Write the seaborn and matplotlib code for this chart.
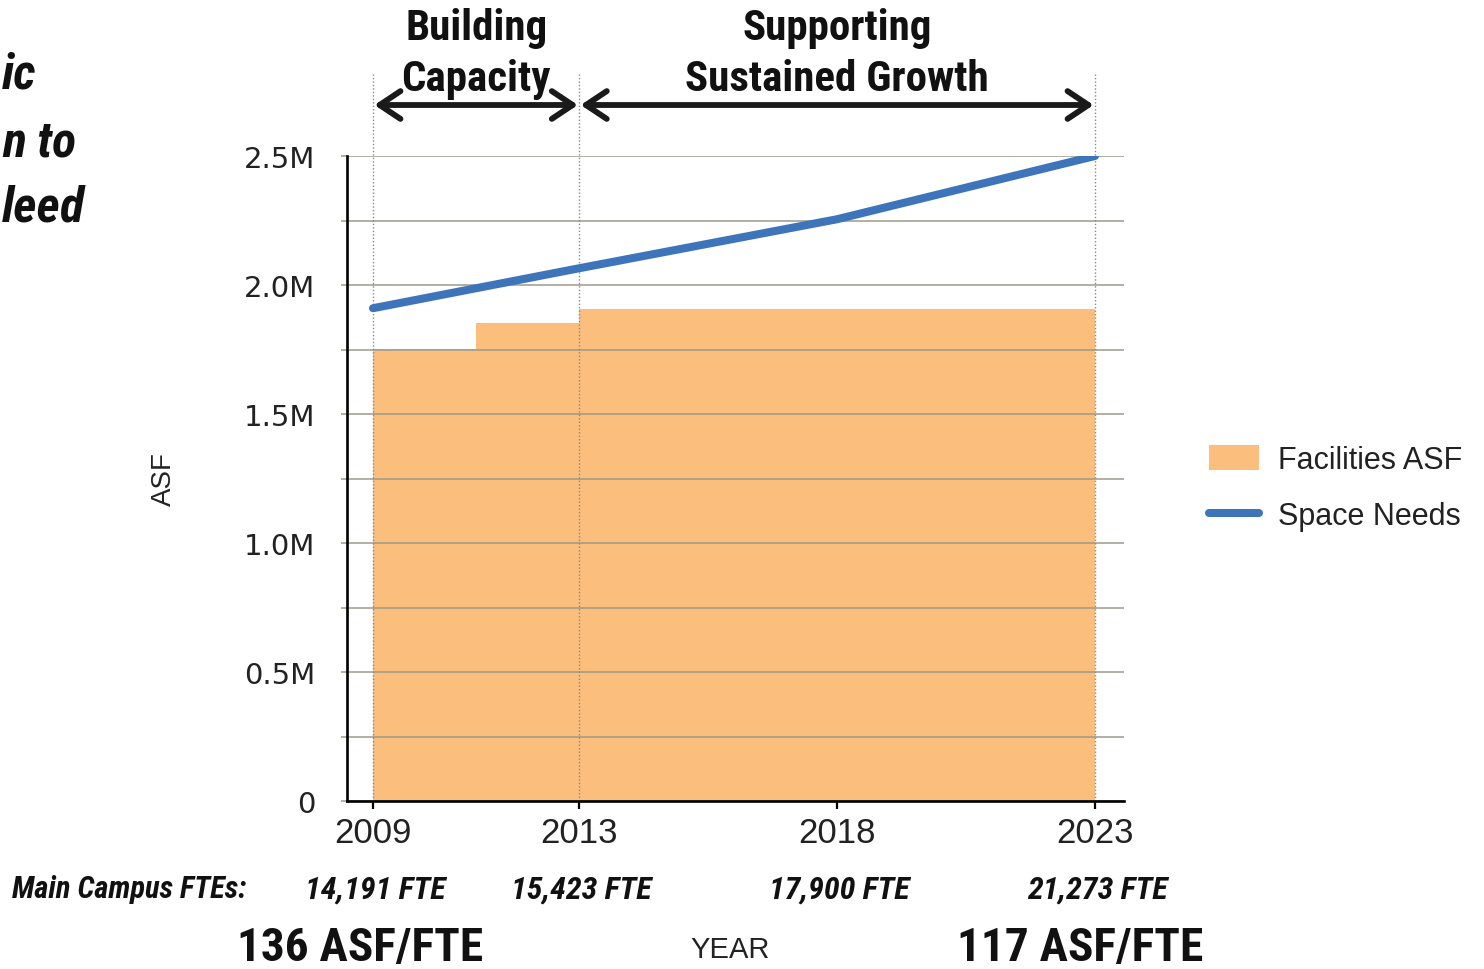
import matplotlib
matplotlib.use('Agg')
import matplotlib.pyplot as plt
import matplotlib.transforms as mtransforms
from matplotlib.ticker import FixedLocator, MultipleLocator
import seaborn as sns
import pandas as pd
import numpy as np

# ---------------- data ----------------
tick_years = [2009, 2013, 2018, 2023]
need_years = [2009, 2013, 2018, 2023]
space_needs = [1.91e6, 2.065e6, 2.255e6, 2.50e6]
asf_start = [2009, 2011, 2013]
asf_end = [2011, 2013, 2023]
facilities_asf = [1.752e6, 1.853e6, 1.907e6]
fte_labels = ['14,191 FTE', '15,423 FTE', '17,900 FTE', '21,273 FTE']
phase_labels = ['Building\nCapacity', 'Supporting\nSustained Growth']
phase_start = [2009, 2013]
phase_end = [2013, 2023]
ratio_labels = ['136 ASF/FTE', '117 ASF/FTE']
ytick_vals = [0, 0.5e6, 1.0e6, 1.5e6, 2.0e6, 2.5e6]
ytick_labels = ['0', '0.5M', '1.0M', '1.5M', '2.0M', '2.5M']
side_lines = ['ic', 'n to', 'leed']

ORANGE = '#FBBE7D'
BLUE = '#3E74BA'
GRID = '#9c9a88'
NARROW = ['Roboto Condensed', 'Liberation Sans', 'DejaVu Sans']
REG = ['Liberation Sans', 'DejaVu Sans']

sns.set_theme(style='white')
plt.rcParams['font.family'] = REG

fig = plt.figure(figsize=(14.84, 9.70), dpi=100)
W, H = 1484, 970
ax = fig.add_axes([347 / W, 1 - 802 / H, (1124 - 347) / W, (802 - 157) / H])

# bars (facilities)
widths = np.subtract(asf_end, asf_start)
ax.bar(asf_start, facilities_asf, width=widths, align='edge', color=ORANGE,
       linewidth=0, label='Facilities ASF', zorder=1)

# line (space needs)
df = pd.DataFrame({'year': need_years, 'asf': space_needs})
sns.lineplot(data=df, x='year', y='asf', ax=ax, color=BLUE, linewidth=5.8,
             label='Space Needs', zorder=4, solid_capstyle='round')

ax.set_xlim(2008.496, 2023.562)
ax.set_ylim(0, 2.5e6)

# axes styling
for s in ['top', 'right']:
    ax.spines[s].set_visible(False)
for s in ['left', 'bottom']:
    ax.spines[s].set_color('black')
    ax.spines[s].set_linewidth(1.9)
    ax.spines[s].set_zorder(5)

ax.yaxis.set_major_locator(FixedLocator(ytick_vals))
ax.set_yticklabels(ytick_labels)
ax.yaxis.set_minor_locator(MultipleLocator(0.25e6))
ax.set_xticks(tick_years)
ax.set_xticklabels([str(y) for y in tick_years])

ax.set_axisbelow(False)
ax.yaxis.grid(True, which='both', color=GRID, linewidth=1.1, zorder=2.5)
ax.xaxis.grid(False)

ax.tick_params(axis='y', which='both', left=True, length=4, width=1.1,
               color=GRID, pad=19)
ax.tick_params(axis='y', which='major', labelsize=21, labelcolor='#222222')
ax.tick_params(axis='x', which='major', bottom=True, length=6, width=1.6,
               color='black', labelsize=25, labelcolor='#222222', pad=5)
for lab in ax.get_yticklabels():
    lab.set_family(['DejaVu Sans'])

ax.set_xlabel('')
ax.set_ylabel('ASF', fontsize=20, color='#222222')
ax.yaxis.set_label_coords((177 - 347) / (1124 - 347), 0.5)

# vertical dotted phase boundaries
bounds = phase_start + [phase_end[-1]]
for b in bounds:
    ax.axvline(b, ymin=0, ymax=(802 - 75) / 645, color='#888888', lw=1.0,
               ls=(0, (1, 1.5)), clip_on=False, zorder=2.6)

# phase arrows and titles
trans_xa = mtransforms.blended_transform_factory(ax.transData, ax.transAxes)
arrow_y = (802 - 106) / 645
title_y = (802 - 54) / 645
for s, e, lab in zip(phase_start, phase_end, phase_labels):
    ax.annotate('', xy=(e, arrow_y), xytext=(s, arrow_y), xycoords=trans_xa,
                textcoords=trans_xa, annotation_clip=False,
                arrowprops=dict(arrowstyle='<->,head_length=0.75,head_width=0.5',
                                lw=4.2, color='#1a1a1a', shrinkA=1, shrinkB=1,
                                mutation_scale=20))
    ax.text((s + e) / 2, title_y, lab, transform=trans_xa, ha='center',
            va='center', fontsize=31, fontweight='bold', family=NARROW,
            linespacing=1.3, clip_on=False, color='#111111')

# FTE row
trans_xf = mtransforms.blended_transform_factory(ax.transData, fig.transFigure)
for yr, lab in zip(tick_years, fte_labels):
    ax.text(yr + 0.04, 1 - 890 / H, lab, transform=trans_xf, ha='center',
            va='center', fontsize=23, fontweight='bold', fontstyle='italic',
            family=NARROW, color='#111111', clip_on=False)
fig.text(12 / W, 1 - 890 / H, 'Main Campus FTEs:', ha='left', va='center',
         fontsize=22, fontweight='bold', fontstyle='italic', family=NARROW,
         color='#111111')

# ratio labels + YEAR
for cx, lab in zip([360, 1080], ratio_labels):
    fig.text(cx / W, 1 - 948 / H, lab, ha='center', va='center', fontsize=34,
             fontweight='bold', family=NARROW, color='#111111')
fig.text(730 / W, 1 - 950 / H, 'YEAR', ha='center', va='center', fontsize=21,
         family=REG, color='#222222')

# cropped side title (only the visible fragments)
for cy, line in zip([75, 143, 208], side_lines):
    fig.text(2 / W, 1 - cy / H, line, ha='left', va='center', fontsize=36,
             fontweight='bold', fontstyle='italic', family=NARROW,
             color='#111111')

# legend
handles, labels = ax.get_legend_handles_labels()
order = [labels.index('Facilities ASF'), labels.index('Space Needs')]
leg = ax.legend([handles[i] for i in order], [labels[i] for i in order],
                loc='upper left', bbox_to_anchor=(1209 / W, 1 - 446 / H),
                bbox_transform=fig.transFigure, frameon=False, fontsize=22,
                handlelength=1.65, handleheight=0.85, handletextpad=0.6,
                labelspacing=0.85, borderpad=0, borderaxespad=0)
for t in leg.get_texts():
    t.set_color('#222222')

fig.savefig('out.png', dpi=100)
